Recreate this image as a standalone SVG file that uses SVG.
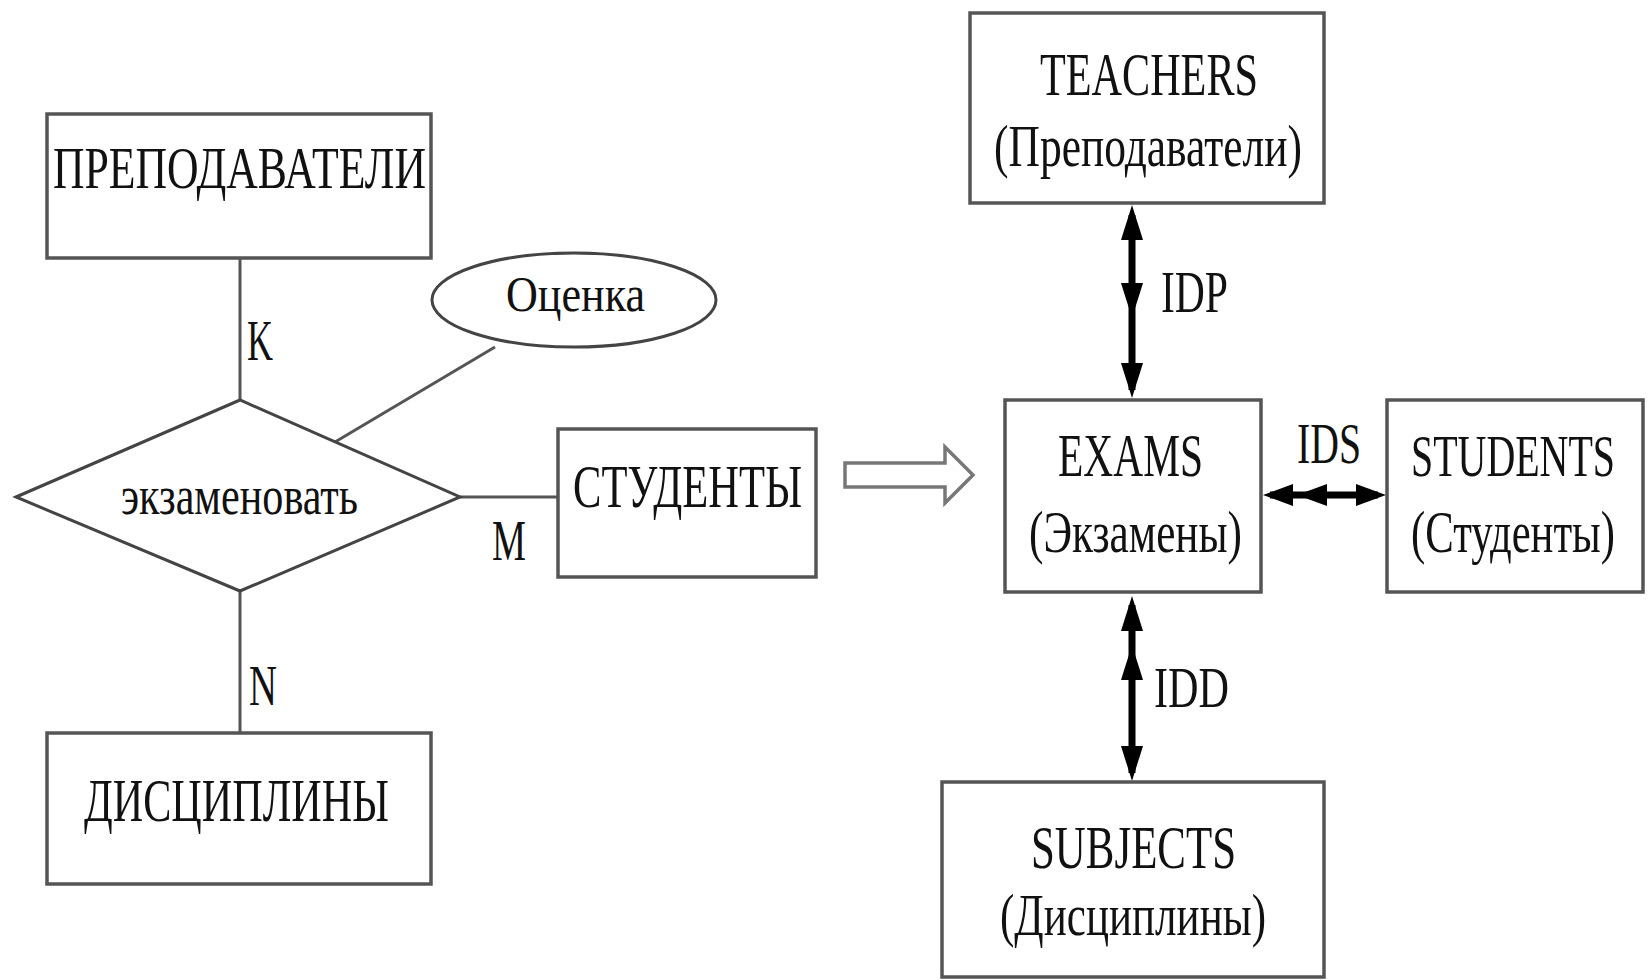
<svg xmlns="http://www.w3.org/2000/svg" width="1650" height="980" viewBox="0 0 1650 980">
<defs>
<style>
.box{fill:#fff;stroke:#555;stroke-width:3.5}
.shape{fill:#fff;stroke:#444;stroke-width:3}
.ln{stroke:#555;stroke-width:3;fill:none}
.t{font-family:"Liberation Serif","Times New Roman",serif;fill:#111}
.arr{stroke:#000;stroke-width:7;fill:none}
.head{fill:#000}
</style>
</defs>
<rect width="1650" height="980" fill="#fff"/>
<g id="connectors">
<line class="ln" x1="240" y1="258" x2="240" y2="400"/>
<line class="ln" x1="335" y1="442" x2="495" y2="347"/>
<line class="ln" x1="460" y1="497" x2="558" y2="497"/>
<line class="ln" x1="240" y1="591" x2="240" y2="733"/>
<text class="t" x="247" y="360" font-size="58" textLength="26" lengthAdjust="spacingAndGlyphs">K</text>
<text class="t" x="492" y="560" font-size="58" textLength="34" lengthAdjust="spacingAndGlyphs">M</text>
<text class="t" x="249" y="705" font-size="58" textLength="28" lengthAdjust="spacingAndGlyphs">N</text>
<polygon points="845,463 945,463 945,447 973,475 945,503 945,487 845,487" fill="#fff" stroke="#777" stroke-width="3.5"/>
<line class="arr" x1="1132" y1="215" x2="1132" y2="390"/>
<polygon class="head" points="1132,205 1121,240 1143,240"/>
<polygon class="head" points="1132,318 1121,283 1143,283"/>
<polygon class="head" points="1132,398 1121,363 1143,363"/>
<text class="t" x="1161" y="312" font-size="60" textLength="67" lengthAdjust="spacingAndGlyphs">IDP</text>
<line class="arr" x1="1270" y1="495" x2="1378" y2="495"/>
<polygon class="head" points="1263,495 1293,484 1293,506"/>
<polygon class="head" points="1297,495 1327,484 1327,506"/>
<polygon class="head" points="1386,495 1356,484 1356,506"/>
<text class="t" x="1297" y="463" font-size="58" textLength="64" lengthAdjust="spacingAndGlyphs">IDS</text>
<line class="arr" x1="1132" y1="605" x2="1132" y2="773"/>
<polygon class="head" points="1132,596 1121,631 1143,631"/>
<polygon class="head" points="1132,645 1121,680 1143,680"/>
<polygon class="head" points="1132,781 1121,746 1143,746"/>
<text class="t" x="1154" y="707" font-size="58" textLength="75" lengthAdjust="spacingAndGlyphs">IDD</text>
</g>
<g id="prepodavateli">
<rect class="box" x="47" y="114" width="384" height="144"/>
<text class="t" x="53" y="188" font-size="60" textLength="373" lengthAdjust="spacingAndGlyphs">ПРЕПОДАВАТЕЛИ</text>
</g>
<g id="ocenka">
<ellipse class="shape" cx="574" cy="300" rx="142" ry="47"/>
<text class="t" x="506" y="311" font-size="50" textLength="139" lengthAdjust="spacingAndGlyphs">Оценка</text>
</g>
<g id="ekzamenovat">
<polygon class="shape" points="16,497 240,400 460,497 240,591"/>
<text class="t" x="121" y="514" font-size="54" textLength="237" lengthAdjust="spacingAndGlyphs">экзаменовать</text>
</g>
<g id="studenty">
<rect class="box" x="558" y="429" width="258" height="148"/>
<text class="t" x="573" y="507" font-size="62" textLength="229" lengthAdjust="spacingAndGlyphs">СТУДЕНТЫ</text>
</g>
<g id="discipliny">
<rect class="box" x="47" y="733" width="384" height="151"/>
<text class="t" x="84" y="821" font-size="62" textLength="305" lengthAdjust="spacingAndGlyphs">ДИСЦИПЛИНЫ</text>
</g>
<g id="teachers">
<rect class="box" x="970" y="13" width="354" height="190"/>
<text class="t" x="1040" y="95" font-size="62" textLength="218" lengthAdjust="spacingAndGlyphs">TEACHERS</text>
<text class="t" x="994" y="166" font-size="60" textLength="308" lengthAdjust="spacingAndGlyphs">(Преподаватели)</text>
</g>
<g id="exams">
<rect class="box" x="1005" y="400" width="256" height="192"/>
<text class="t" x="1058" y="476" font-size="62" textLength="145" lengthAdjust="spacingAndGlyphs">EXAMS</text>
<text class="t" x="1029" y="552" font-size="60" textLength="213" lengthAdjust="spacingAndGlyphs">(Экзамены)</text>
</g>
<g id="students">
<rect class="box" x="1387" y="400" width="256" height="192"/>
<text class="t" transform="translate(1513,476) scale(1,1.5)" x="0" y="0" font-size="40" text-anchor="middle" textLength="204" lengthAdjust="spacingAndGlyphs">STUDENTS</text>
<text class="t" transform="translate(1513,552) scale(1,1.5)" x="0" y="0" font-size="40" text-anchor="middle" textLength="204" lengthAdjust="spacingAndGlyphs">(Студенты)</text>
</g>
<g id="subjects">
<rect class="box" x="942" y="782" width="382" height="195"/>
<text class="t" x="1031" y="868" font-size="62" textLength="205" lengthAdjust="spacingAndGlyphs">SUBJECTS</text>
<text class="t" x="1000" y="935" font-size="60" textLength="266" lengthAdjust="spacingAndGlyphs">(Дисциплины)</text>
</g>
</svg>
